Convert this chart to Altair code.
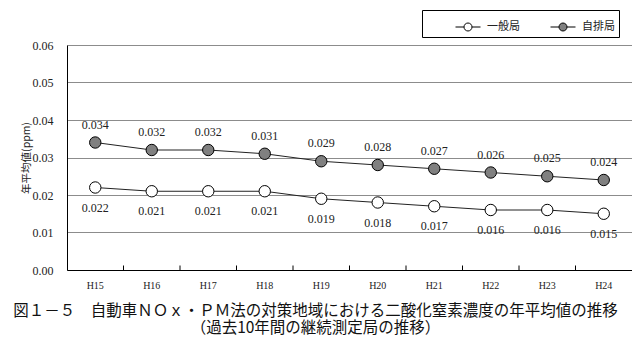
import altair as alt
import pandas as pd

years = ["H15", "H16", "H17", "H18", "H19", "H20", "H21", "H22", "H23", "H24"]
ippan = [0.022, 0.021, 0.021, 0.021, 0.019, 0.018, 0.017, 0.016, 0.016, 0.015]
jihai = [0.034, 0.032, 0.032, 0.031, 0.029, 0.028, 0.027, 0.026, 0.025, 0.024]
series_names = ["一般局", "自排局"]
y_ticks = [0.00, 0.01, 0.02, 0.03, 0.04, 0.05, 0.06]
title_lines = ["図１－５　自動車ＮＯｘ・ＰＭ法の対策地域における二酸化窒素濃度の年平均値の推移",
               "（過去10年間の継続測定局の推移）"]

rows = []
for y, v in zip(years, ippan):
    rows.append({"year": y, "value": v, "series": series_names[0], "label": f"{v:.3f}", "pos": "below"})
for y, v in zip(years, jihai):
    rows.append({"year": y, "value": v, "series": series_names[1], "label": f"{v:.3f}", "pos": "above"})
df = pd.DataFrame(rows)
tick_df = pd.DataFrame({"year": years[1:]})

serif = "Liberation Serif"
cjk = "Noto Sans CJK JP"

xscale = alt.Scale(type="band", domain=years, paddingInner=0, paddingOuter=0)
yscale = alt.Scale(domain=[0, 0.06], nice=False, zero=True)

x_axis = alt.Axis(title=None, grid=False, ticks=False, labelAngle=0,
                  labelFont=serif, labelFontSize=10, labelColor="#222",
                  labelPadding=10, domainColor="#000")
y_axis = alt.Axis(title="年平均値(ppm)", values=y_ticks, format=".2f", labelOverlap=False,
                  labelFont=serif, labelFontSize=12, labelColor="#222",
                  labelPadding=14, ticks=False, grid=True, gridColor="#8c8c8c",
                  domainColor="#000", titleFont=cjk,
                  titleFontSize=10.5, titleFontWeight="normal", titleColor="#222",
                  titlePadding=1)

def X():
    return alt.X("year:N", scale=xscale, sort=years, axis=x_axis)

def Y():
    return alt.Y("value:Q", scale=yscale, axis=y_axis)

base = alt.Chart(df)

lines = base.mark_line(color="#222", strokeWidth=1).encode(x=X(), y=Y(), detail="series:N")

sym_path = ("M-1,0H-0.32 M-0.32,0 A0.32,0.32 0 1,1 0.32,0 "
            "A0.32,0.32 0 1,1 -0.32,0 Z M0.32,0H1")

points = base.mark_point(filled=True, size=130, stroke="#000", strokeWidth=1, opacity=1).encode(
    x=X(), y=Y(),
    fill=alt.Fill("series:N",
                  scale=alt.Scale(domain=series_names, range=["#ffffff", "#808080"]),
                  legend=alt.Legend(title="ＭＭ", titleOrient="left", titleFontSize=11,
                                    titleFont=cjk, titleColor="#ffffff", titlePadding=7,
                                    titleFontWeight="normal",
                                    orient="none", legendX=355, legendY=-35,
                                    direction="horizontal", symbolType=sym_path,
                                    symbolSize=625, symbolStrokeColor="#000",
                                    symbolStrokeWidth=1, labelFont=cjk,
                                    labelFontSize=11, labelColor="#222", labelOffset=6,
                                    columnPadding=28, padding=4, strokeColor="#000",
                                    fillColor="#fff", offset=0)))

labels_above = base.transform_filter(alt.datum.pos == "above").mark_text(
    font=serif, fontSize=12, color="#222", dy=-18, baseline="middle").encode(
    x=X(), y=Y(), text="label:N")
labels_below = base.transform_filter(alt.datum.pos == "below").mark_text(
    font=serif, fontSize=12, color="#222", dy=20, baseline="middle").encode(
    x=X(), y=Y(), text="label:N")

ticks = alt.Chart(tick_df).mark_rule(color="#000", strokeWidth=1).encode(
    x=alt.X("year:N", scale=xscale, sort=years, bandPosition=0, axis=x_axis),
    y=alt.YDatum(0, scale=yscale, axis=y_axis), y2=alt.datum(0.0012))

chart = alt.layer(lines, ticks, points, labels_above, labels_below).properties(
    width=565, height=225,
    autosize=alt.AutoSizeParams(type="none"),
    padding={"left": 59, "top": 37, "right": 0, "bottom": 65},
    title=alt.Title(title_lines, orient="bottom", anchor="middle", dx=-34, offset=14,
                    font=cjk, fontSize=15.5, fontWeight="normal",
                    color="#111", lineHeight=17),
).configure_view(stroke="#333", strokeWidth=1).configure(background="#ffffff")

chart.save("out.html", embed_options={"renderer": "svg", "actions": False})
